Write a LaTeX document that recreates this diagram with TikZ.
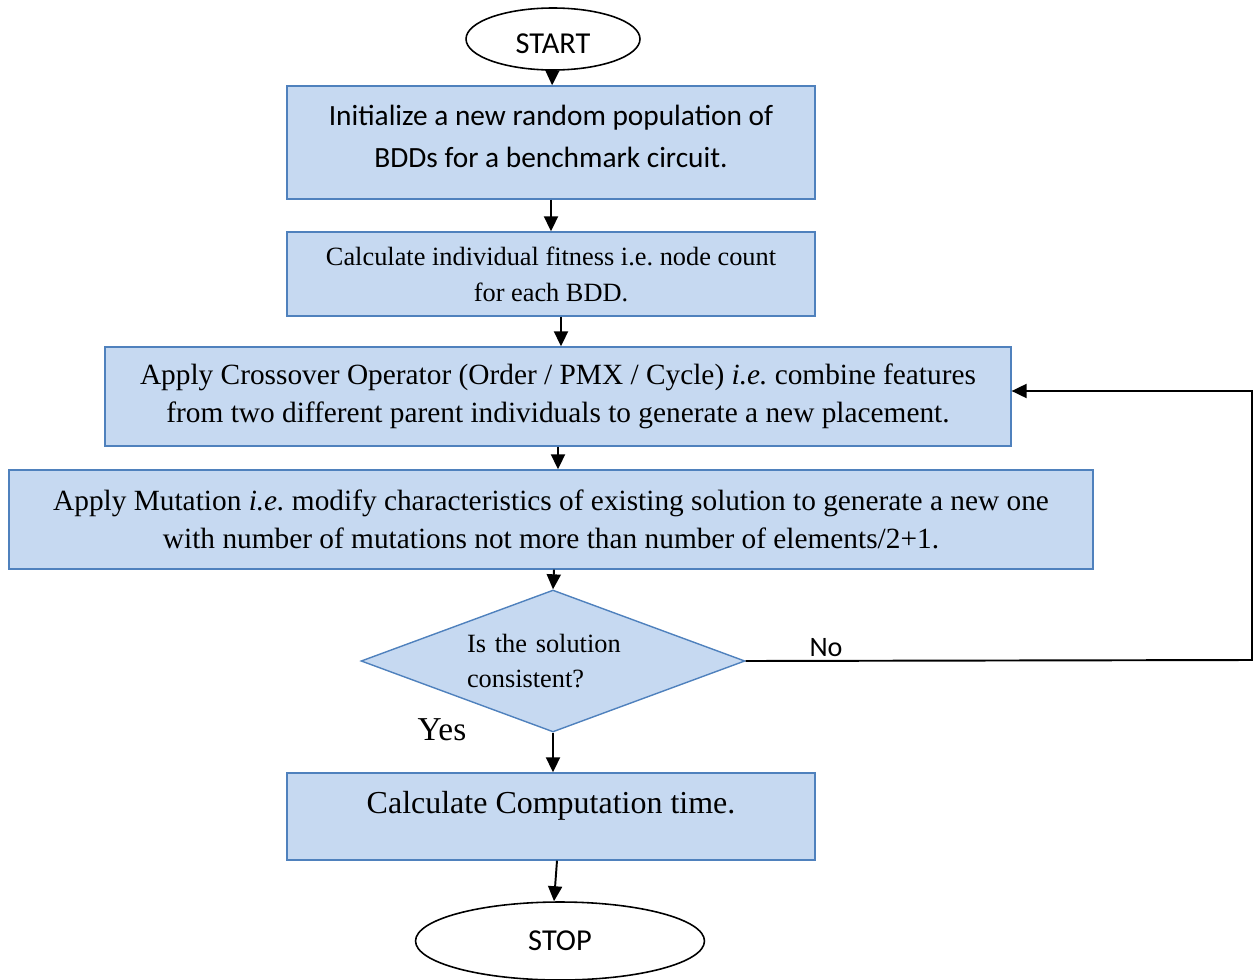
\documentclass[tikz,border=0pt]{standalone}
\usepackage{fontspec}
\setmainfont{Liberation Serif}
\newfontfamily\calfont{Carlito}
\usepackage{xcolor}
\usetikzlibrary{arrows.meta, positioning, shapes.geometric, calc}
\definecolor{boxfill}{HTML}{C6D9F1}
\definecolor{boxline}{HTML}{4F81BD}

\begin{document}
\frenchspacing
\begin{tikzpicture}[
      x=0.02cm, y=-0.02cm,
      process/.style={rectangle, draw=boxline, fill=boxfill, line width=0.8pt, align=center, inner sep=0pt},
      terminal/.style={ellipse, draw, line width=0.9pt, inner sep=0pt, font=\calfont\fontsize{17.3}{20}\selectfont},
      decision/.style={diamond, aspect=2.7, draw=boxline, fill=boxfill, line width=0.8pt, inner sep=0pt, align=left},
      arr/.style={-{Triangle[length=0.3cm, width=0.28cm]}, line width=1.1pt}
    ]
      \useasboundingbox (0,0) rectangle (1254,980);
      \node[terminal, minimum width=3.48cm, minimum height=1.24cm, text height=17pt] (start) at (553,39) {START};
      \node[process, minimum width=10.56cm, minimum height=2.26cm, text depth=7pt, font=\calfont\fontsize{16.7}{24}\selectfont] (init) at (551,142.5)
        {Initialize a new random population of\\BDDs for a benchmark circuit.};
      \node[process, minimum width=10.56cm, minimum height=1.68cm, font=\fontsize{15}{20.5}\selectfont] (fitness) at (551,274)
        {Calculate individual fitness i.e. node count\\for each BDD.};
      \node[process, minimum width=18.12cm, minimum height=1.98cm, font=\fontsize{16.7}{22}\selectfont] (crossover) at (558,396.5)
        {Apply Crossover Operator (Order / PMX / Cycle) \textit{i.e.} combine features\\from two different parent individuals to generate a new placement.};
      \node[process, minimum width=21.68cm, minimum height=1.98cm, font=\fontsize{16.7}{22}\selectfont] (mutation) at (551,519.5)
        {Apply Mutation \textit{i.e.} modify characteristics of existing solution to generate a new one\\with number of mutations not more than number of elements/2+1.};
      \node[decision, minimum width=7.68cm, minimum height=2.84cm, text width=3.44cm, font=\fontsize{15}{20}\selectfont] (check) at (553,661)
        {Is the solution\\consistent?};
      \node[process, minimum width=10.56cm, minimum height=1.74cm, text depth=16pt, font=\fontsize{18.2}{21}\selectfont] (comptime) at (551,816.5)
        {Calculate Computation time.};
      \node[terminal, minimum width=5.78cm, minimum height=1.56cm] (stop) at (560,941) {STOP};
      \node[font=\fontsize{19}{22}\selectfont] (yes) at (442,730) {Yes};
      \node[font=\calfont\fontsize{16}{19}\selectfont] (no) at (826,648) {No};
      \coordinate (back) at (1252,660);

      % main flow
      \draw[arr] (start) -- (init);
      \draw[arr] (init) -- (fitness);
      \draw[arr] ([xshift=0.2cm]fitness.south) -- ([xshift=0.2cm]fitness.south |- crossover.north);
      \draw[arr] (crossover.south) -- (crossover.south |- mutation.north);
      \draw[arr] ([xshift=0.06cm]mutation.south) -- (check.north);
      \draw[arr] (check.south) -- (check.south |- comptime.north);
      \draw[arr] ([xshift=0.12cm]comptime.south) -- ([xshift=-0.12cm]stop.north);
      % loop back
      \draw[arr] (check.east) -- (back) |- ([yshift=0.11cm]crossover.east);
    \end{tikzpicture}
\end{document}
